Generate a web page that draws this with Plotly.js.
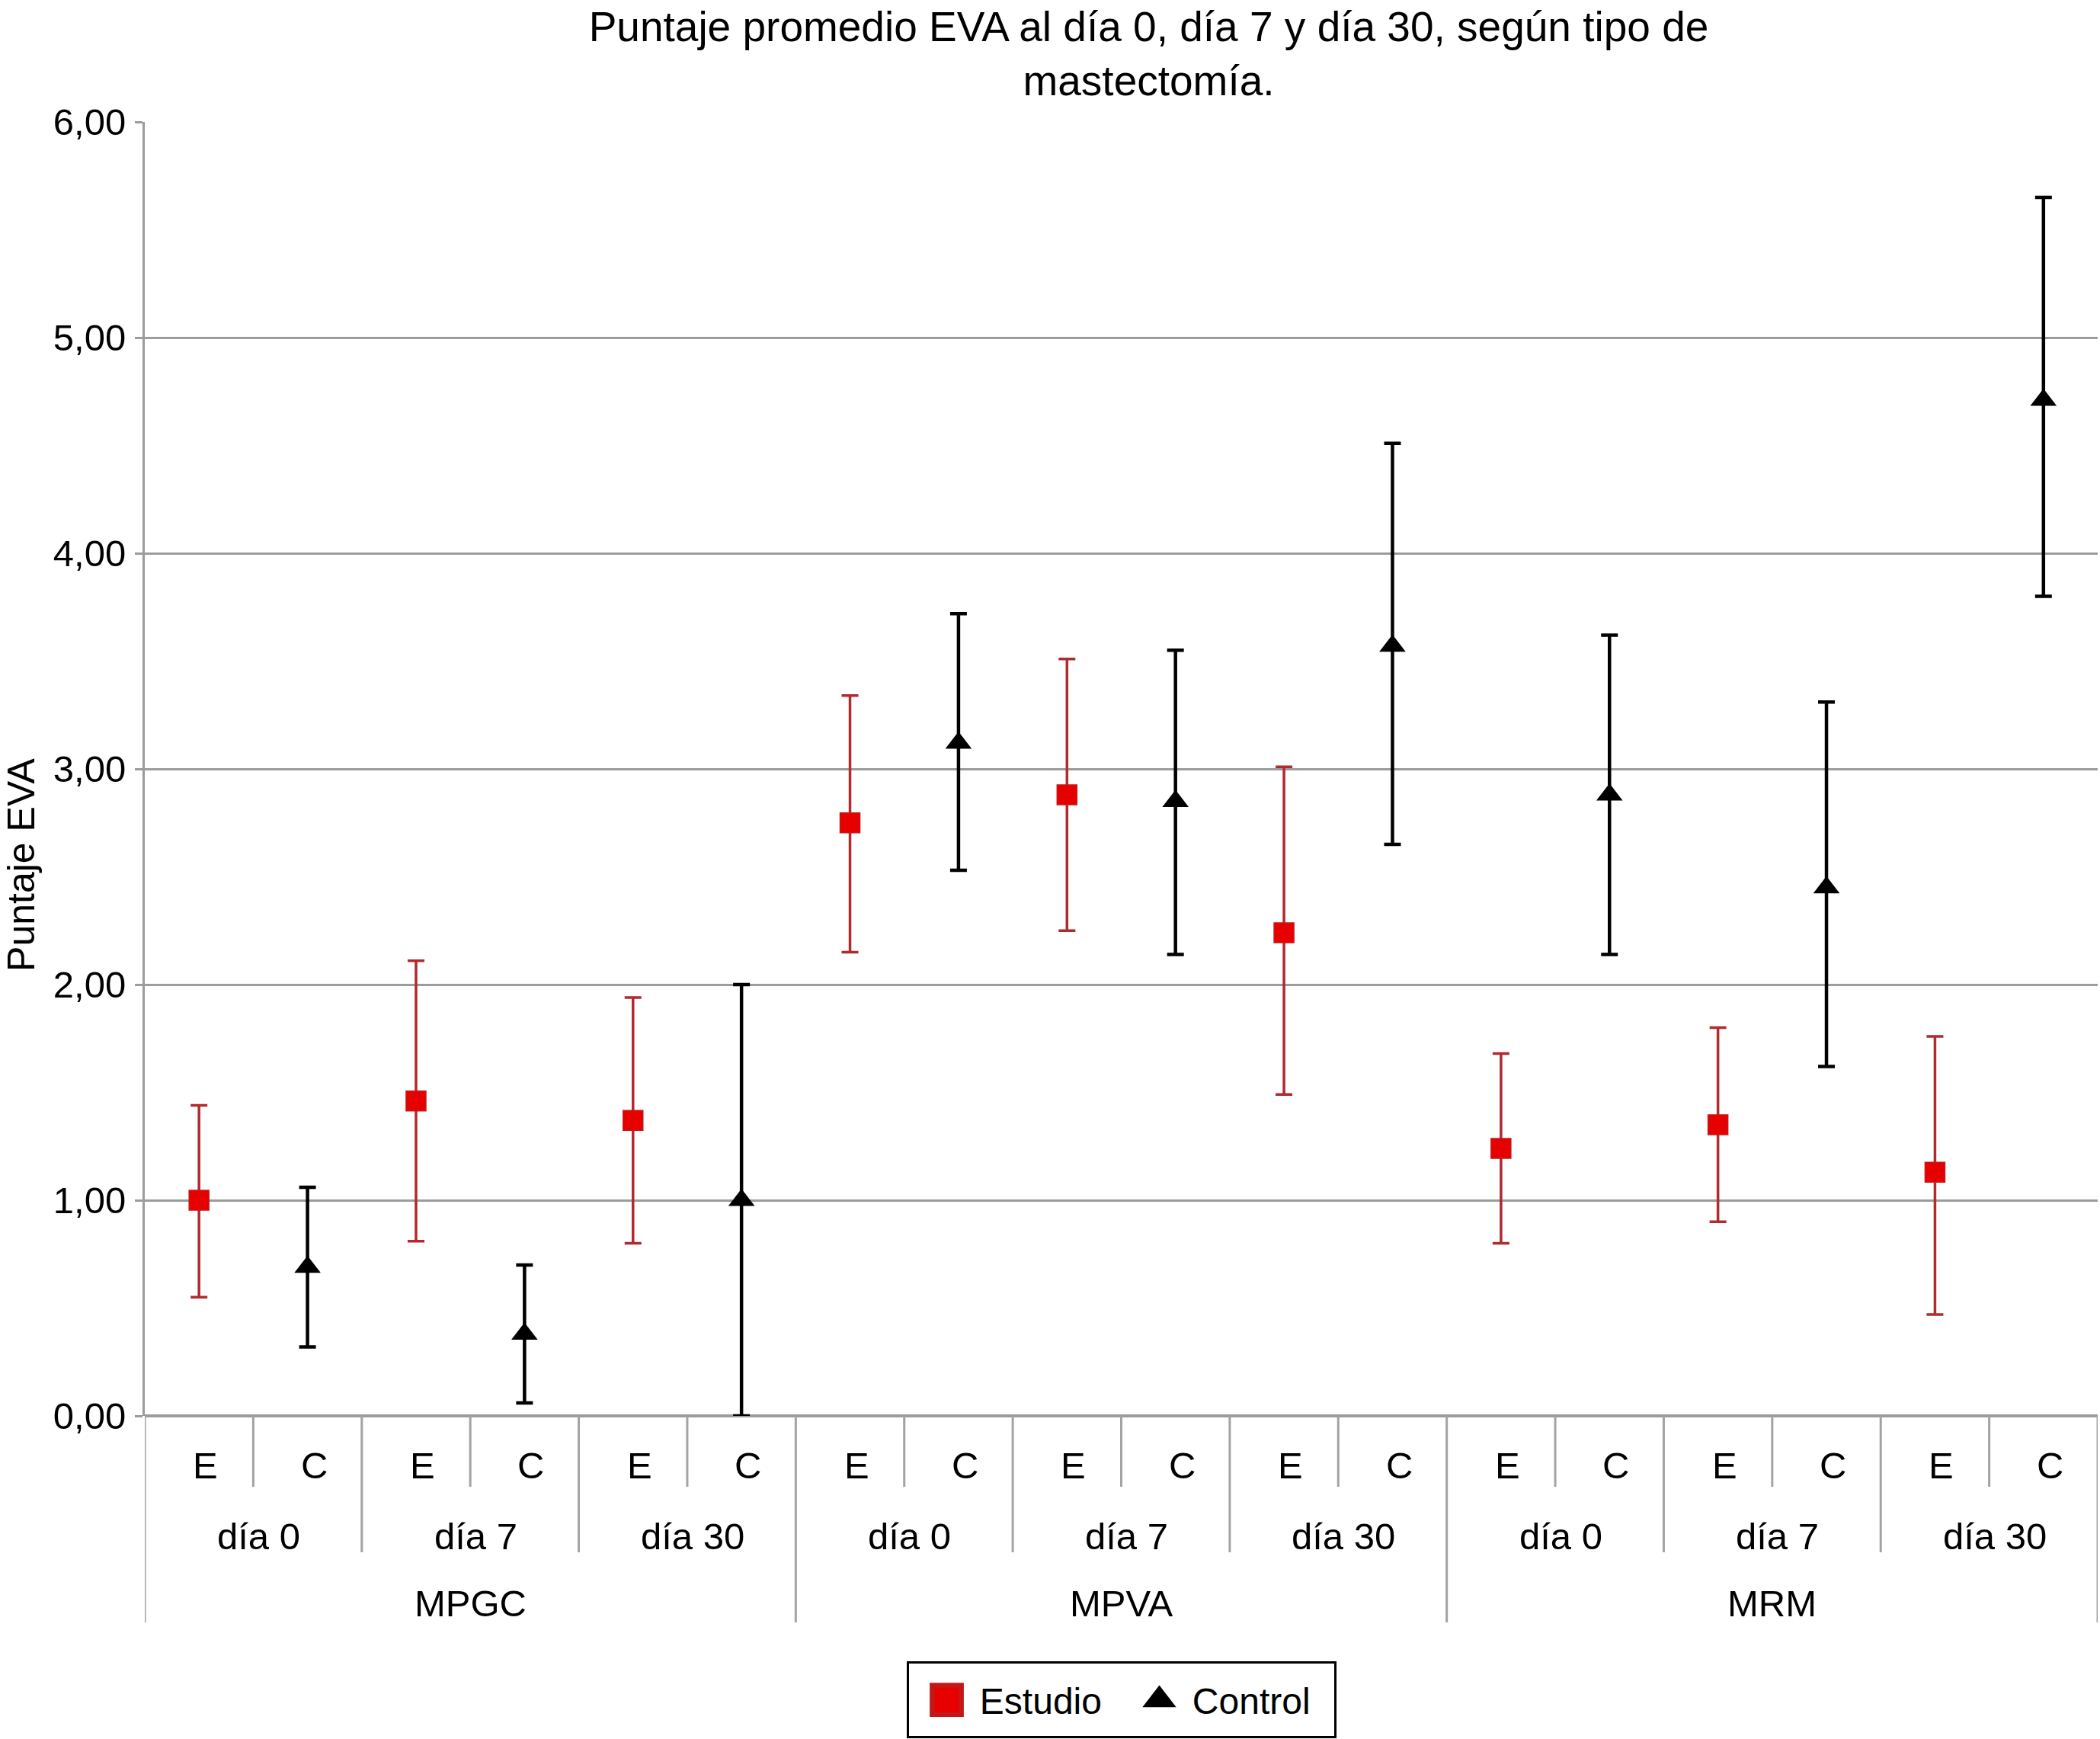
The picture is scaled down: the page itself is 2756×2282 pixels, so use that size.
<!DOCTYPE html>
<html>
<head>
<meta charset="utf-8">
<script src="https://cdn.plot.ly/plotly-3.0.1.min.js"></script>
<style>
  html, body { margin: 0; padding: 0; background: #ffffff; }
  #chart { width: 2756px; height: 2282px; }
</style>
</head>
<body>
<div id="chart"></div>
<script>
// ---- Data ----
const groups = ['MPGC', 'MPVA', 'MRM'];
const days = ['día 0', 'día 7', 'día 30'];
const arms = ['E', 'C'];

// Estudio (E) : mean and error-bar limits, order MPGC d0,d7,d30, MPVA..., MRM...
const estudioMean  = [1.00, 1.46, 1.37, 2.75, 2.88, 2.24, 1.24, 1.35, 1.13];
const estudioUpper = [1.44, 2.11, 1.94, 3.34, 3.51, 3.01, 1.68, 1.80, 1.76];
const estudioLower = [0.55, 0.81, 0.80, 2.15, 2.25, 1.49, 0.80, 0.90, 0.47];

// Control (C)
const controlMean  = [0.69, 0.38, 1.00, 3.12, 2.85, 3.57, 2.88, 2.45, 4.71];
const controlUpper = [1.06, 0.70, 2.00, 3.72, 3.55, 4.51, 3.62, 3.31, 5.65];
const controlLower = [0.32, 0.06, 0.00, 2.53, 2.14, 2.65, 2.14, 1.62, 3.80];

const yTicks = [0, 1, 2, 3, 4, 5, 6];

// ---- Build traces ----
const nSub = groups.length * days.length;
const xE = [], xC = [];
for (let k = 0; k < nSub; k++) { xE.push(2 * k); xC.push(2 * k + 1); }

const PAD = '\u00a0\u00a0\u00a0\u00a0';
const traceE = {
  type: 'scatter', mode: 'markers', name: PAD + 'Estudio',
  x: xE, y: estudioMean, cliponaxis: false,
  marker: { symbol: 'square', size: 26, color: '#e60000', line: { color: '#c41818', width: 1.5 } },
  error_y: {
    type: 'data', symmetric: false,
    array: estudioUpper.map((v, i) => v - estudioMean[i]),
    arrayminus: estudioMean.map((v, i) => v - estudioLower[i]),
    color: '#b02a2e', thickness: 3.5, width: 11
  }
};
const traceC = {
  type: 'scatter', mode: 'markers', name: PAD + 'Control',
  x: xC, y: controlMean, cliponaxis: false,
  marker: { symbol: 'triangle-up', size: 30, color: '#000000' },
  error_y: {
    type: 'data', symmetric: false,
    array: controlUpper.map((v, i) => v - controlMean[i]),
    arrayminus: controlMean.map((v, i) => v - controlLower[i]),
    color: '#000000', thickness: 4.5, width: 11
  }
};

// ---- Hierarchical category axis (annotations + divider shapes) ----
const FONT = 'Liberation Sans, Arial, Helvetica, sans-serif';
const lblSize = 49;
const annotations = [];
const shapes = [];
const divColor = '#a3a3a3';
const yRow1 = -0.0383, yRow2 = -0.093, yRow3 = -0.145;
const yDiv1 = -0.0548, yDiv2 = -0.1054, yDiv3 = -0.1596;

let idx = 0;
groups.forEach((g, gi) => {
  days.forEach((d, di) => {
    arms.forEach((a, ai) => {
      annotations.push({ x: idx + 0.06, y: yRow1, xref: 'x', yref: 'paper', text: a, showarrow: false,
        xanchor: 'center', yanchor: 'middle', font: { family: FONT, size: lblSize, color: '#000' } });
      if (ai === 0) {
        shapes.push({ type: 'line', xref: 'x', yref: 'paper', x0: idx + 0.5, x1: idx + 0.5, y0: 0, y1: yDiv1,
          line: { color: divColor, width: 3 } });
      }
      idx++;
    });
    const dCenter = idx - arms.length / 2 - 0.5;
    annotations.push({ x: dCenter + 0.05, y: yRow2, xref: 'x', yref: 'paper', text: d, showarrow: false,
      xanchor: 'center', yanchor: 'middle', font: { family: FONT, size: lblSize, color: '#000' } });
    if (di < days.length - 1) {
      shapes.push({ type: 'line', xref: 'x', yref: 'paper', x0: idx - 0.5, x1: idx - 0.5, y0: 0, y1: yDiv2,
        line: { color: divColor, width: 3 } });
    }
  });
  const gCenter = idx - (days.length * arms.length) / 2 - 0.5;
  annotations.push({ x: gCenter, y: yRow3, xref: 'x', yref: 'paper', text: g, showarrow: false,
    xanchor: 'center', yanchor: 'middle', font: { family: FONT, size: lblSize, color: '#000' } });
});
// group boundaries (including outer edges)
for (let gi = 0; gi <= groups.length; gi++) {
  const xb = gi * days.length * arms.length - 0.5;
  shapes.push({ type: 'line', xref: 'x', yref: 'paper', x0: xb, x1: xb, y0: 0, y1: yDiv3,
    line: { color: divColor, width: 3 } });
}

// y-axis title as rotated annotation
annotations.push({ x: -0.0635, y: 0.426, xref: 'paper', yref: 'paper', text: 'Puntaje EVA', showarrow: false,
  textangle: -90, xanchor: 'center', yanchor: 'middle', font: { family: FONT, size: 50, color: '#000' } });

const layout = {
  width: 2756, height: 2282,
  margin: { l: 190, r: 3, t: 160, b: 424 },
  paper_bgcolor: '#ffffff', plot_bgcolor: '#ffffff',
  separators: ',.',
  font: { family: FONT, size: 48, color: '#000000' },
  title: {
    text: 'Puntaje promedio EVA al día 0, día 7 y día 30, según tipo de<br>mastectomía.',
    font: { family: FONT, size: 55, color: '#000' },
    xref: 'container', yref: 'container', x: 0.547, xanchor: 'center', y: 0.9765, yanchor: 'middle'
  },
  xaxis: {
    range: [-0.5, 17.5], showticklabels: false, showgrid: false, zeroline: false,
    showline: false, ticks: '', fixedrange: true
  },
  yaxis: {
    range: [0, 6], tickvals: yTicks, tickformat: '.2f',
    showgrid: true, gridcolor: '#9c9c9c', gridwidth: 3,
    zeroline: true, zerolinecolor: '#9c9c9c', zerolinewidth: 4,
    showline: true, linecolor: '#9c9c9c', linewidth: 3,
    ticks: 'outside', ticklen: 10, tickwidth: 3, tickcolor: '#9c9c9c',
    tickfont: { family: FONT, size: 49, color: '#000' },
    ticklabelstandoff: 2
  },
  showlegend: true,
  legend: {
    orientation: 'h', x: 0.5, xanchor: 'center', y: -0.1955, yanchor: 'top',
    bordercolor: '#000000', borderwidth: 3, bgcolor: '#ffffff',
    font: { family: FONT, size: 48, color: '#000' },
    itemsizing: 'constant', entrywidth: 234, entrywidthmode: 'pixels'
  },
  annotations: annotations,
  shapes: shapes
};

function fixLegend() {
  const lg = document.querySelector('#chart g.legend');
  if (!lg) return;
  lg.querySelectorAll('g.legendpoints path.scatterpts').forEach(p => {
    if (p.getAttribute('data-scaled') === '1' && /scale/.test(p.getAttribute('transform') || '')) return;
    p.setAttribute('transform', 'translate(50,0) scale(3.2)');
    p.setAttribute('data-scaled', '1');
  });
  const bg = lg.querySelector('rect.bg');
  if (bg && bg.getAttribute('data-grown') !== '1') {
    const y0 = parseFloat(bg.getAttribute('y') || '0');
    const h0 = parseFloat(bg.getAttribute('height') || '0');
    bg.setAttribute('y', y0 - 10);
    bg.setAttribute('height', h0 + 19);
    bg.setAttribute('data-grown', '1');
  }
}

const gd = document.getElementById('chart');
Plotly.newPlot(gd, [traceE, traceC], layout, { displayModeBar: false, staticPlot: true }).then(() => {
  fixLegend();
  gd.on && gd.on('plotly_afterplot', fixLegend);
  setTimeout(fixLegend, 50);
  setTimeout(fixLegend, 300);
});
</script>
</body>
</html>
